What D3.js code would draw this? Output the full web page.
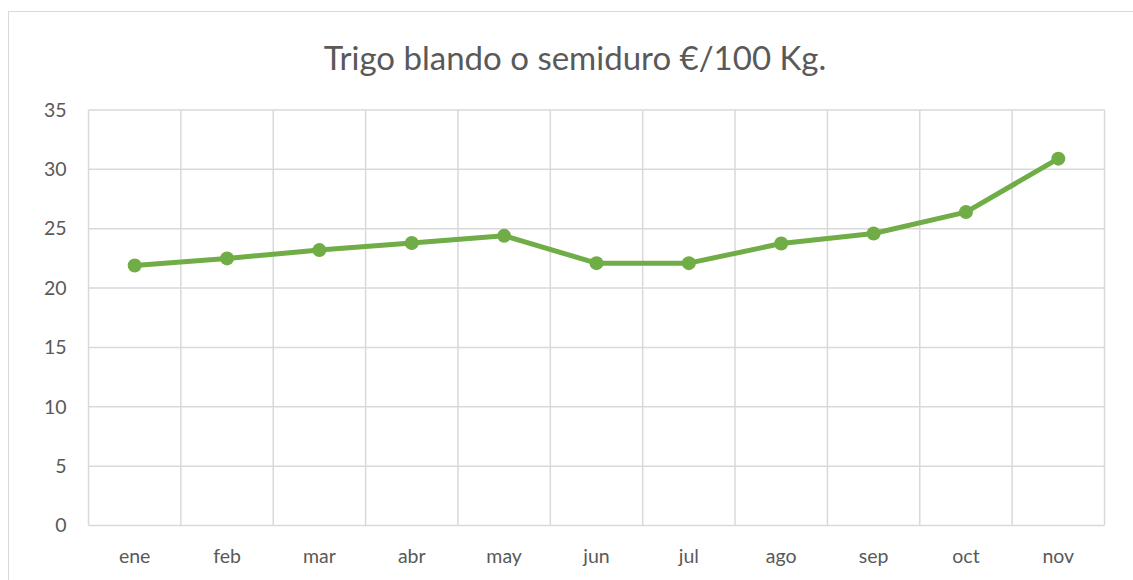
<!DOCTYPE html>
<html><head><meta charset="utf-8">
<script src="https://cdn.jsdelivr.net/npm/d3@7"></script>
<style>body{margin:0;background:#fff;}svg{display:block;font-family:Lato,"Open Sans",sans-serif;}</style>
</head><body>
<svg id="c" width="1133" height="580"></svg>
<script>
const categories = ["ene","feb","mar","abr","may","jun","jul","ago","sep","oct","nov"];
const values = [21.9, 22.5, 23.2, 23.8, 24.4, 22.1, 22.1, 23.75, 24.6, 26.4, 30.9];
const yTicks = [0,5,10,15,20,25,30,35];
const title = "Trigo blando o semiduro €/100 Kg.";

const svg = d3.select("#c");
const L = 88.5, R = 1104.5, T = 110, B = 525.5;
const x = d3.scaleBand().domain(categories).range([L, R]);
const y = d3.scaleLinear().domain([0, 35]).range([B, T]);
const ff = "Lato,'Open Sans',sans-serif";

svg.append("rect").attr("x", 8.5).attr("y", 11.5).attr("width", 1140).attr("height", 600)
  .attr("fill", "#fff").attr("stroke", "#d9d9d9").attr("stroke-width", 1);

svg.append("text").attr("x", 575).attr("y", 70).attr("text-anchor", "middle")
  .attr("font-size", 33).attr("fill", "#595959").text(title);

const g = svg.append("g");
g.selectAll("line.h").data(yTicks).join("line")
  .attr("x1", L).attr("x2", R).attr("y1", d => y(d)).attr("y2", d => y(d))
  .attr("stroke", "#d9d9d9").attr("stroke-width", 1.5);
const bounds = categories.map(c => x(c)).concat([R]);
g.selectAll("line.v").data(bounds).join("line")
  .attr("x1", d => d).attr("x2", d => d).attr("y1", T).attr("y2", B)
  .attr("stroke", "#d9d9d9").attr("stroke-width", 1.5);

const yAxis = d3.axisLeft(y).tickValues(yTicks).tickSize(0).tickPadding(22);
const ya = svg.append("g").attr("transform", `translate(${L},0)`).call(yAxis);
ya.select(".domain").remove();
ya.selectAll("text").attr("font-size", 19.5).attr("fill", "#595959").attr("font-family", ff);

const xAxis = d3.axisBottom(x).tickSize(0).tickPadding(24);
const xa = svg.append("g").attr("transform", `translate(0,${B})`).call(xAxis);
xa.select(".domain").remove();
xa.selectAll("text").attr("font-size", 19.5).attr("fill", "#595959").attr("font-family", ff);

const cx = c => x(c) + x.bandwidth() / 2;
const line = d3.line().x((d, i) => cx(categories[i])).y(d => y(d));
svg.append("path").datum(values).attr("d", line).attr("fill", "none")
  .attr("stroke", "#70ad47").attr("stroke-width", 5).attr("stroke-linejoin", "round");
svg.selectAll("circle").data(values).join("circle")
  .attr("cx", (d, i) => cx(categories[i])).attr("cy", d => y(d)).attr("r", 7)
  .attr("fill", "#70ad47");
</script>
</body></html>
